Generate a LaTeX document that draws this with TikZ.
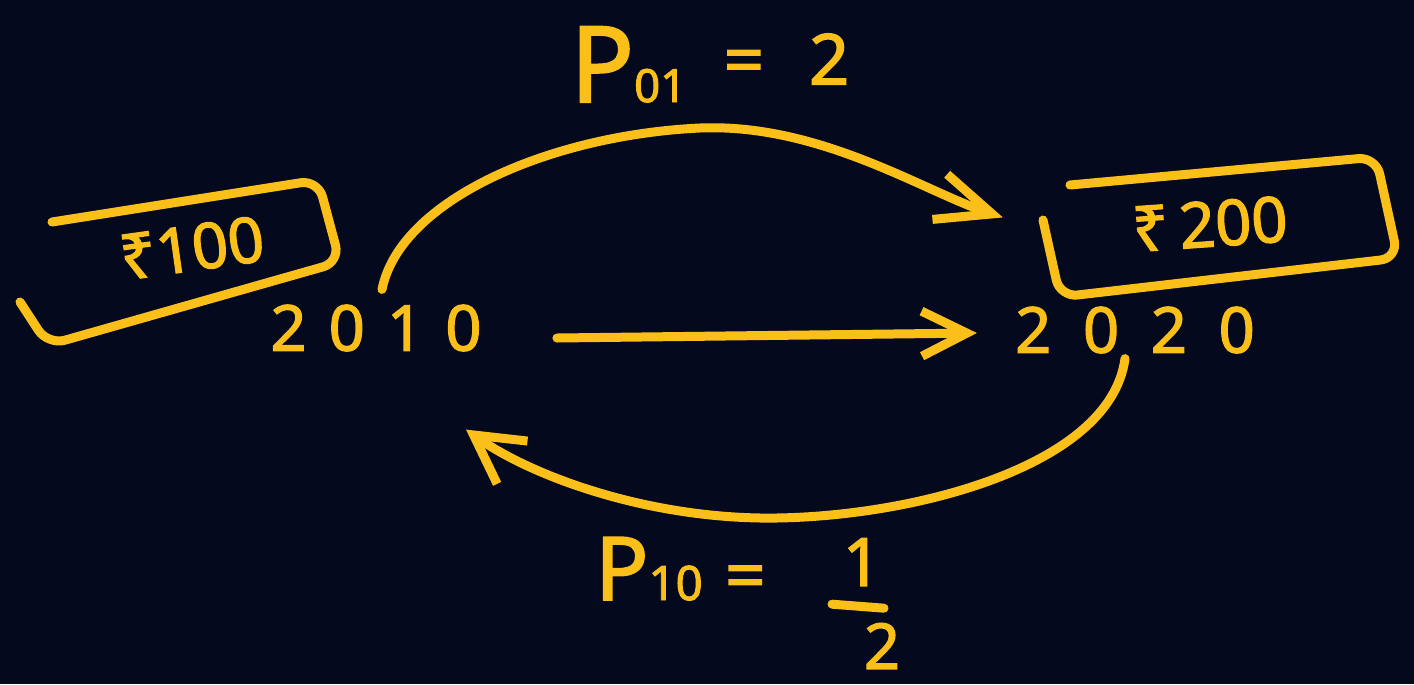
\documentclass[tikz,border=0pt]{standalone}
\usepackage{fontspec}
\setmainfont{Noto Sans}
\usetikzlibrary{arrows.meta,calc}
\definecolor{bg}{RGB}{5,9,30}
\definecolor{ink}{RGB}{250,192,25}
\newcommand{\fs}[1]{\fontsize{#1}{#1}\selectfont\addfontfeatures{FakeBold=2}}
\begin{document}
\begin{tikzpicture}[x=0.02cm,y=-0.02cm,
  pen/.style={draw=ink,line width=0.18cm,line cap=round,line join=round},
  boxline/.style={pen,rounded corners=0.35cm},
  lbl/.style={text=ink,inner sep=0pt,font=\fs{36}},
  year/.style={lbl,font=\fontsize{36}{36}\selectfont\addfontfeatures{LetterSpace=#1,FakeBold=2}}]
\fill[bg] (0,0) rectangle (1414,684);
\useasboundingbox (0,0) rectangle (1414,684);

% years
\node[year=35] (n2010) at (376,328) {2010};
\node[year=50] (n2020) at (1135,330) {2020};

% boxed amounts
\node[lbl,rotate=8] (t100) at (192,248) {₹100};
\node[lbl,rotate=4] (t200) at (1210,224) {₹\,200};
\draw[boxline] (20,302) -- (48,345) -- (340,262) -- (318,180) -- (52,222);
\draw[boxline] (1043,220) -- (1060,297) -- (1398,258) -- (1376,157) -- (1070,185);

% labels
\node[lbl,anchor=base west] (p01) at (570,102)
  {{\fs{60}P}{\fs{26}01}\hspace{0.75cm}\raisebox{0.35cm}{\fs{40}=\hspace{0.9cm}2}};
\node[lbl,anchor=base west] (p10) at (595,600)
  {{\fs{50}P}{\fs{27}10}\hspace{0.45cm}{\fs{40}=}};
\node[lbl,font=\fs{38}] (f1) at (862,562) {1};
\node[lbl,font=\fs{36}] (f2) at (882,646) {2};
\draw[pen] ($(f1.south)+(-30,18)$) -- ($(f1.south)+(22,22)$);

% connectors
\draw[pen,-{Straight Barb[length=0.9cm,width=0.9cm]}]
  ($(n2010.east)+(75,10)$) -- ($(n2020.west)+(-38,3)$);
\draw[pen,-{Straight Barb[length=1.1cm,width=0.95cm]}]
  ($(n2010.north)+(6,-15)$) .. controls (400,200) and (550,135) .. (700,128)
  .. controls (820,123) and (925,192) .. ($(n2020.north west)+(-12,-89)$);
\draw[pen,-{Straight Barb[length=0.95cm,width=1.05cm]}]
  ($(n2020.south)+(-10,5)$) .. controls (1110,470) and (900,520) .. (760,518)
  .. controls (640,516) and (530,475) .. ($(n2010.south)+(90,78)$);
\end{tikzpicture}
\end{document}
